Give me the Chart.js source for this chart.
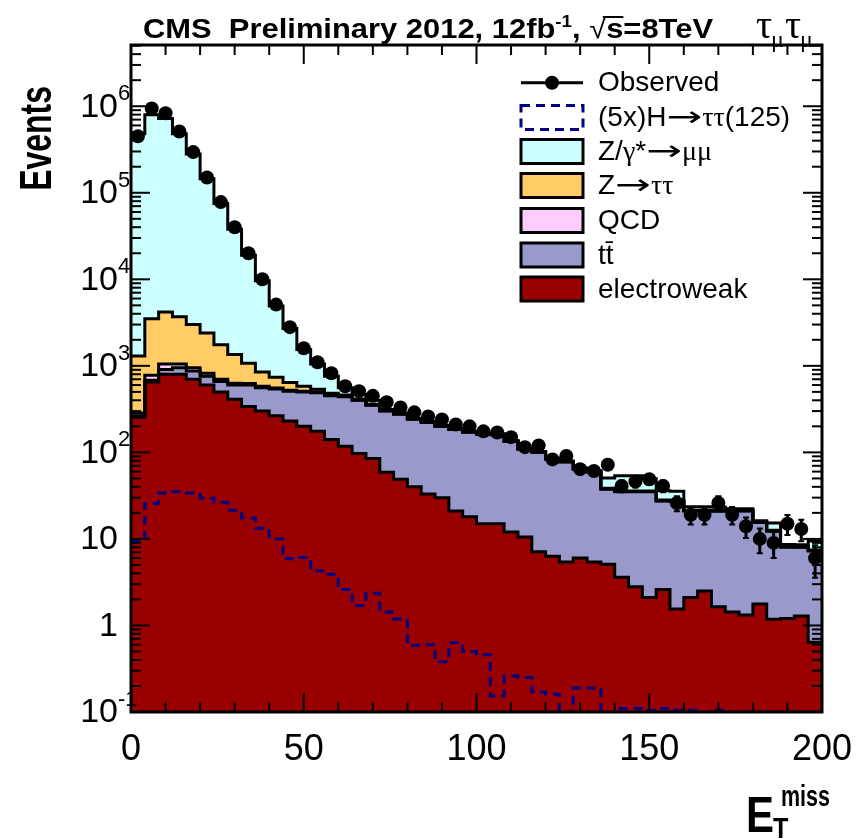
<!DOCTYPE html>
<html><head><meta charset="utf-8">
<script src="https://cdn.jsdelivr.net/npm/chart.js@4.4.0/dist/chart.umd.min.js"></script>
<style>html,body{margin:0;padding:0;background:#fff}#wrap{width:859px;height:839px}</style>
</head><body><div id="wrap"><canvas id="c" width="859" height="839"></canvas></div>
<script>
// ---------------- data ----------------
const binEdges = [0,4,8,12,16,20,24,28,32,36,40,44,48,52,56,60,64,68,72,76,80,84,88,92,96,100,104,108,112,116,120,124,128,132,136,140,144,148,152,156,160,164,168,172,176,180,184,188,192,196,200];
const observed = [450000,940000,830000,510000,295000,150000,78000,40000,20000,10000,5100,2800,1600,1100,820,580,510,450,380,330,290,260,240,210,200,175,170,150,115,120,83,91,64,61,72,41,46,49,41,26,19,19,26,19,14,10,9,15,13,6];
const electroweak = [255,650,800,800,700,600,500,410,340,300,265,230,200,175,141,118,97,85,59,49,40,33,30,21,18,15,15,12,10.5,7.1,6.3,5.4,6.0,5.4,5.1,3.6,2.8,2.1,2.6,1.55,2.1,2.5,1.65,1.43,1.32,1.77,1.18,1.2,1.29,0.64];
const ttbar = [10,30,110,150,170,160,160,190,260,260,275,280,300,315,309,322,303,265,241,227,201,188,170,163,153,147,145,122,98,93,77,72,58,54,32.5,31.4,32.2,32.9,24.9,25.5,18.9,18.5,19.3,19.6,19.7,13.7,11.1,6.8,6.7,6.6];
const qcd = [20,100,140,100,80,60,40,30,25,20,15,12,10,8,6,5,4,3,2,2,1.5,1.5,1,1,1,1,0.8,0.8,0.6,0.6,0.5,0.5,0.4,0.4,0.3,0.3,0.3,0.3,0.2,0.2,0.2,0.2,0.2,0.1,0.1,0.1,0.1,0.1,0.1,0.1];
const ztautau = [1015,2720,3150,2650,2050,1580,1050,720,445,270,185,118,70,40,25,15,10,7,5,4,3,3,2.5,2,2,1.5,1.5,1.2,1,1,0.8,0.8,0.7,0.6,0.6,0.5,0.5,0.4,0.4,0.3,0.3,0.3,0.3,0.2,0.2,0.2,0.2,0.2,0.2,0.1];
const dyMuMu = [479000,796000,716000,476000,277000,142600,73250,36650,17930,8750,4160,2060,970,512,279,100,56,40,5,4,3,2,2,2,1.5,1.5,1.5,1,1,1,1,1,1,1,12,18,18,14,8,8,2,2,2,1,1,0.5,2.7,0.3,0.3,2];
const higgs5x = [9.4,25.7,34,35,34,29.5,26.5,21.4,17.4,13.3,10,5.9,6.1,4.3,3.9,2.6,1.7,2.35,1.43,1.19,0.59,0.6,0.38,0.63,0.5,0.46,0.153,0.26,0.25,0.17,0.16,0.1,0.19,0.19,0.1,0.11,0.11,0.105,0.11,0.105,0.105,0.1,0.105,0.1,0.1,0.1,0.1,0.1,0.1,0.1];

const xTickValues = [0,50,100,150,200];
const xTickLabels = ['0','50','100','150','200'];
const yTickValues = [0.1,1,10,100,1000,10000,100000,1000000];
const yTickLabels = [['10','-1'],['1',''],['10',''],['10','2'],['10','3'],['10','4'],['10','5'],['10','6']];
const legendLabels = ['Observed','(5x)H\u2192\u03c4\u03c4(125)','Z/\u03b3*\u2192\u03bc\u03bc','Z\u2192\u03c4\u03c4','QCD','t\u0074\u0304','electroweak'];
const titleText = 'CMS  Preliminary 2012, 12fb';
const channelText = ['\u03c4','\u03bc','\u03c4','\u03bc'];

const colors = {dy:'#ccffff', ztt:'#ffcc66', qcd:'#ffccff', tt:'#9999cc', ew:'#990000', h:'#000080'};
const FONT = '"Liberation Sans", Arial, Helvetica, sans-serif';
const SERIF = '"Liberation Serif", "Times New Roman", serif';

// ---------------- build datasets ----------------
function cumulate(base, add){ return base.map((v,i)=>v+add[i]); }
const cEW = electroweak.slice();
const cTT = cumulate(cEW, ttbar);
const cQCD = cumulate(cTT, qcd);
const cZTT = cumulate(cQCD, ztautau);
const cDY = cumulate(cZTT, dyMuMu);
function steps(vals){
  const pts = vals.map((v,i)=>({x:binEdges[i], y:v}));
  pts.push({x:binEdges[vals.length], y:vals[vals.length-1]});
  return pts;
}
const centers = observed.map((v,i)=>(binEdges[i]+binEdges[i+1])/2);
const obsPts = observed.map((v,i)=>({x:centers[i], y:v}));

function stackDs(label, vals, color, fill, order){
  return {label, data:steps(vals), borderColor:'#000', borderWidth:3, backgroundColor:color,
    fill, stepped:'before', pointRadius:0, order, tension:0};
}
const datasets = [
  stackDs('electroweak', cEW, colors.ew, 'start', 6),
  stackDs('ttbar', cTT, colors.tt, '-1', 5),
  stackDs('QCD', cQCD, colors.qcd, '-1', 4),
  stackDs('Ztautau', cZTT, colors.ztt, '-1', 3),
  stackDs('DY', cDY, colors.dy, '-1', 2),
  {label:'Higgs', data:steps(higgs5x), borderColor:colors.h, borderWidth:3, borderDash:[9,6],
    fill:false, stepped:'before', pointRadius:0, order:1},
  {label:'Observed', data:obsPts, showLine:false, pointRadius:7, pointHoverRadius:7,
    backgroundColor:'#000', borderColor:'#000', borderWidth:0, order:0}
];

// ---------------- helpers ----------------
function drawScaled(ctx, text, x, y, sx){
  ctx.save(); ctx.translate(x,y); ctx.scale(sx,1); ctx.fillText(text,0,0); ctx.restore();
}
// rich text: greek in serif, arrows wide
function drawRich(ctx, str, x, y, size){
  const runs=[]; let cur=null;
  for(const ch of str){
    let k='n';
    if(ch==='\u2192') k='a'; else if(/[\u0370-\u03ff]/.test(ch)) k='g';
    if(!cur||cur.k!==k||k==='a'){ cur={k,t:''}; runs.push(cur); }
    cur.t+=ch;
  }
  let cx=x;
  runs.forEach(r=>{
    if(r.k==='a'){
      ctx.font=size+'px "DejaVu Sans", '+FONT;
      const w=ctx.measureText(r.t).width; const target=size*1.28;
      ctx.save(); ctx.translate(cx,y); ctx.scale(target/w,1); ctx.fillText(r.t,0,0); ctx.restore();
      cx+=target;
    } else {
      ctx.font=(r.k==='g'?size+'px '+SERIF:size+'px '+FONT);
      ctx.fillText(r.t,cx,y); cx+=ctx.measureText(r.t).width;
    }
  });
}

// error bars
const errorBars = {
  id:'errorBars',
  afterDatasetsDraw(chart){
    const {ctx, chartArea:a, scales:{x,y}} = chart;
    ctx.save();
    ctx.beginPath(); ctx.rect(a.left,a.top,a.width,a.height); ctx.clip();
    ctx.strokeStyle='#000';
    observed.forEach((n,i)=>{
      const e=Math.sqrt(n);
      const px=x.getPixelForValue(centers[i]);
      const hi=y.getPixelForValue(n+e);
      const lo=y.getPixelForValue(Math.max(n-e, 0.01));
      ctx.lineWidth=3;
      ctx.beginPath(); ctx.moveTo(px,hi); ctx.lineTo(px,lo); ctx.stroke();
      ctx.lineWidth=2;
      ctx.beginPath(); ctx.moveTo(px-3,hi); ctx.lineTo(px+3,hi); ctx.moveTo(px-3,lo); ctx.lineTo(px+3,lo); ctx.stroke();
    });
    ctx.restore();
  }
};

// frame + ticks + labels + legend + titles
const decor = {
  id:'decor',
  afterDraw(chart){
    const {ctx, chartArea:a, scales:{x,y}} = chart;
    ctx.save();
    ctx.strokeStyle='#000'; ctx.fillStyle='#000';
    ctx.lineWidth=2;
    const line=(x1,y1,x2,y2)=>{ctx.beginPath();ctx.moveTo(x1,y1);ctx.lineTo(x2,y2);ctx.stroke();};
    for(let v=x.min; v<=x.max; v+=10){
      const px=x.getPixelForValue(v); const len=(v%50===0)?19:10;
      line(px,a.bottom,px,a.bottom-len); line(px,a.top,px,a.top+len);
    }
    for(let d=-1; d<=7; d++){
      for(let m=1;m<=9;m++){
        const v=m*Math.pow(10,d);
        if(v<y.min*0.999||v>y.max) continue;
        const py=y.getPixelForValue(v); const len=(m===1)?19:10;
        line(a.left,py,a.left+len,py); line(a.right,py,a.right-len,py);
      }
    }
    ctx.lineWidth=3;
    ctx.strokeRect(a.left,a.top,a.width,a.height);

    // x tick labels
    ctx.font='36px '+FONT; ctx.textAlign='center'; ctx.textBaseline='alphabetic';
    xTickValues.forEach((v,i)=>ctx.fillText(xTickLabels[i], x.getPixelForValue(v), a.bottom+48));
    // y tick labels
    yTickValues.forEach((v,i)=>{
      const py=y.getPixelForValue(v);
      const [b,e]=yTickLabels[i];
      ctx.font='34px '+FONT; ctx.textAlign='right'; ctx.textBaseline='middle';
      ctx.fillText(b, a.left-13, py+1);
      if(e){ ctx.font='22px '+FONT; ctx.textAlign='left'; ctx.fillText(e, a.left-13, py-12); }
    });

    // axis titles
    ctx.textBaseline='alphabetic'; ctx.textAlign='right';
    ctx.font='bold 45px '+FONT;
    ctx.save(); ctx.translate(51, 86); ctx.rotate(-Math.PI/2); ctx.scale(0.71,1); ctx.fillText('Events',0,0); ctx.restore();
    ctx.textAlign='left';
    ctx.font='bold 50px '+FONT; drawScaled(ctx,'E', 746, 832, 0.84);
    ctx.font='bold 30px '+FONT; drawScaled(ctx,'T', 773, 838, 0.84);
    ctx.font='bold 29px '+FONT; drawScaled(ctx,'miss', 781, 806, 0.74);

    // title
    const tParts=[
      {t:titleText, s:28, dy:0},
      {t:'-1', s:17, dy:-11},
      {t:', ', s:28, dy:0},
      {t:'\u221a', s:28, dy:0, rad:true},
      {t:'s', s:28, dy:0, over:true},
      {t:'=8TeV', s:28, dy:0}
    ];
    let tw=0; tParts.forEach(p=>{ctx.font=(p.rad?'':'bold ')+p.s+'px '+FONT; p.w=ctx.measureText(p.t).width; tw+=p.w;});
    const tx0=143, tW=570, sx=tW/tw, base=38;
    ctx.save(); ctx.translate(tx0,base); ctx.scale(sx,1);
    let cx=0;
    tParts.forEach(p=>{
      ctx.font=(p.rad?'':'bold ')+p.s+'px '+FONT;
      ctx.fillText(p.t,cx,p.dy);
      if(p.over){ ctx.lineWidth=2; ctx.beginPath(); ctx.moveTo(cx-3,-21); ctx.lineTo(cx+p.w,-21); ctx.stroke(); }
      cx+=p.w;
    });
    ctx.restore();
    // tau_mu tau_mu
    let chx=756;
    channelText.forEach((c,i)=>{
      const sub=(i%2===1);
      ctx.font=(sub?'24px ':'40px ')+SERIF;
      ctx.fillText(c, chx, sub?47:38);
      chx+=ctx.measureText(c).width+(sub?1:-1);
    });

    // legend
    const rows=[82.7,117.5,151.5,185.5,220.5,255,289];
    const bx0=521, bx1=583, bh=24, tx=598;
    const fills=[null,'#fff',colors.dy,colors.ztt,colors.qcd,colors.tt,colors.ew];
    rows.forEach((ry,i)=>{
      if(i===0){
        ctx.lineWidth=3; ctx.strokeStyle='#000'; line(bx0,ry,bx1,ry);
        ctx.beginPath(); ctx.arc((bx0+bx1)/2,ry,7,0,Math.PI*2); ctx.fill();
      } else if(i===1){
        ctx.fillStyle='#fff'; ctx.fillRect(bx0,ry-bh/2,bx1-bx0,bh);
        ctx.setLineDash([9,6]); ctx.strokeStyle=colors.h; ctx.lineWidth=3;
        ctx.strokeRect(bx0,ry-bh/2,bx1-bx0,bh); ctx.setLineDash([]);
      } else {
        ctx.fillStyle=fills[i]; ctx.fillRect(bx0,ry-bh/2,bx1-bx0,bh);
        ctx.strokeStyle='#000'; ctx.lineWidth=3; ctx.strokeRect(bx0,ry-bh/2,bx1-bx0,bh);
      }
      ctx.fillStyle='#000'; ctx.textAlign='left'; ctx.textBaseline='middle';
      drawRich(ctx, legendLabels[i], tx, ry+1, 28);
    });
    ctx.restore();
  }
};

new Chart(document.getElementById('c'), {
  type:'line',
  data:{datasets},
  options:{
    responsive:false, animation:false, devicePixelRatio:1,
    layout:{padding:{left:131, right:37, top:45, bottom:127}},
    scales:{
      x:{type:'linear', min:0, max:200, display:false},
      y:{type:'logarithmic', min:0.1, max:5.1e6, display:false}
    },
    plugins:{legend:{display:false}, tooltip:{enabled:false}, filler:{propagate:false, drawTime:'beforeDatasetsDraw'}},
    elements:{line:{tension:0}}
  },
  plugins:[errorBars, decor]
});
</script>
</body></html>
